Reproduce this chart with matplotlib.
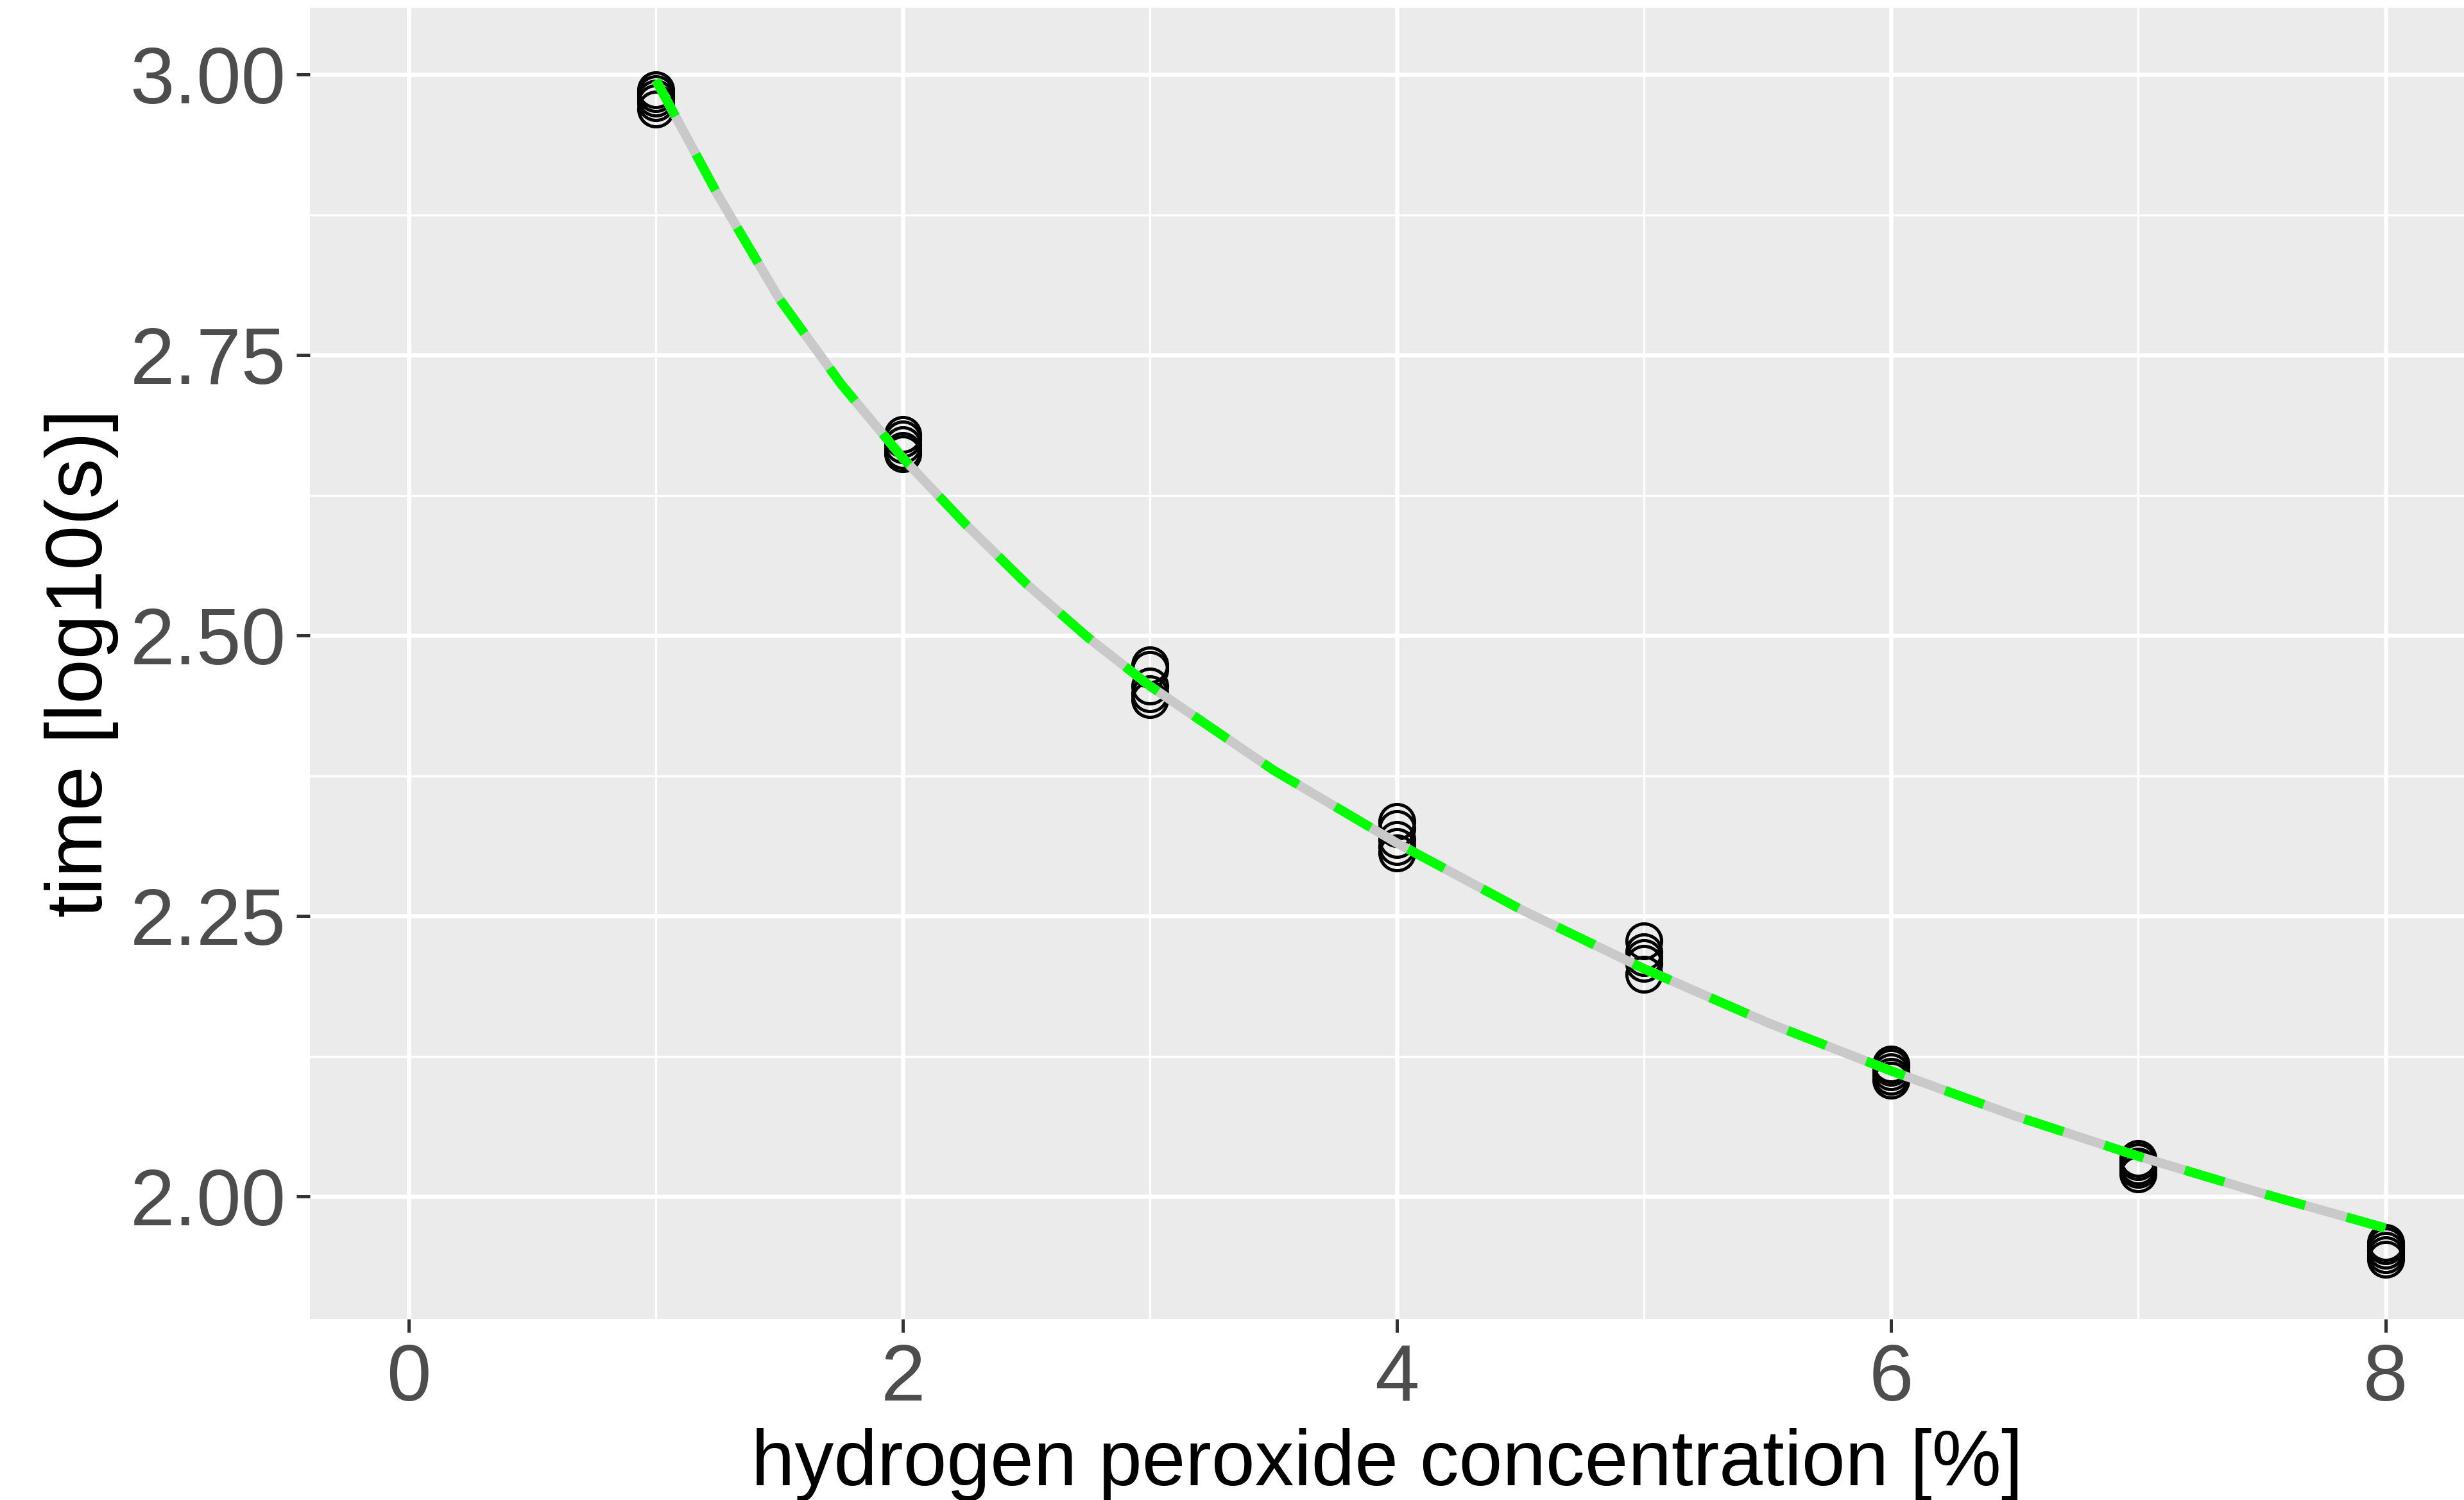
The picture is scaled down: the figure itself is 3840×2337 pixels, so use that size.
import matplotlib.pyplot as plt
import numpy as np
from matplotlib.ticker import MultipleLocator

plt.rcParams['font.family'] = ['Liberation Sans', 'DejaVu Sans']

# measured times, log10(s), five replicates per concentration
conc = [1, 2, 3, 4, 5, 6, 7, 8]
time_log = [
    [2.986, 2.983, 2.979, 2.975, 2.969],
    [2.679, 2.675, 2.670, 2.665, 2.662],
    [2.474, 2.470, 2.455, 2.448, 2.443],
    [2.334, 2.328, 2.318, 2.312, 2.306],
    [2.228, 2.218, 2.213, 2.208, 2.198],
    [2.118, 2.115, 2.111, 2.107, 2.104],
    [2.034, 2.031, 2.027, 2.024, 2.020],
    [1.959, 1.956, 1.952, 1.948, 1.944],
]

# fitted curve
fit_x = [1.0, 1.25, 1.5, 1.75, 2.0, 2.25, 2.5, 2.75, 3.0, 3.5, 4.0,
         4.5, 5.0, 5.5, 6.0, 6.5, 7.0, 7.5, 8.0]
fit_y = [2.995, 2.893, 2.800, 2.724, 2.658, 2.600, 2.546, 2.498, 2.455,
         2.380, 2.315, 2.256, 2.203, 2.155, 2.112, 2.072, 2.036, 2.003, 1.972]

fig = plt.figure(figsize=(12.8, 7.79), dpi=300)
ax = fig.add_axes([0.1258, 0.1207, 1.0 - 0.1258, 0.99487 - 0.1207])
ax.set_facecolor('#EBEBEB')

px = np.repeat(conc, [len(v) for v in time_log])
py = np.concatenate(time_log)
ax.plot(px, py, linestyle='none', marker='o', markersize=13,
        markerfacecolor='none', markeredgecolor='black',
        markeredgewidth=1.2, zorder=3)

ax.plot(fit_x, fit_y, color='#C9C9C9', linewidth=3.5,
        solid_capstyle='butt', solid_joinstyle='round', zorder=4)
green, = ax.plot(fit_x, fit_y, color='#00FF00', linewidth=3.5,
                 dash_capstyle='butt', zorder=5)
green.set_dashes((4.4, 4.6))

ax.set_xlim(-0.4, 8.318)
ax.set_ylim(1.891, 3.0595)
ax.xaxis.set_major_locator(MultipleLocator(2))
ax.xaxis.set_minor_locator(MultipleLocator(1))
ax.yaxis.set_minor_locator(MultipleLocator(0.125))
ax.set_yticks([2.00, 2.25, 2.50, 2.75, 3.00])
ax.set_yticklabels(['2.00', '2.25', '2.50', '2.75', '3.00'])

ax.grid(which='major', color='white', linewidth=1.56)
ax.grid(which='minor', color='white', linewidth=0.8)
ax.set_axisbelow(True)
for s in ax.spines.values():
    s.set_visible(False)

ax.tick_params(which='major', length=5, width=1.2, color='#333333',
               labelsize=30, labelcolor='#4D4D4D', pad=4)
ax.tick_params(which='minor', length=0)

ax.set_xlabel('hydrogen peroxide concentration [%]', fontsize=29.2,
              color='black', labelpad=4)
ax.set_ylabel('time [log10(s)]', fontsize=30, color='black',
              va='center')
ax.yaxis.set_label_coords(-0.106, 0.5)

fig.savefig('out.png', dpi=300)
